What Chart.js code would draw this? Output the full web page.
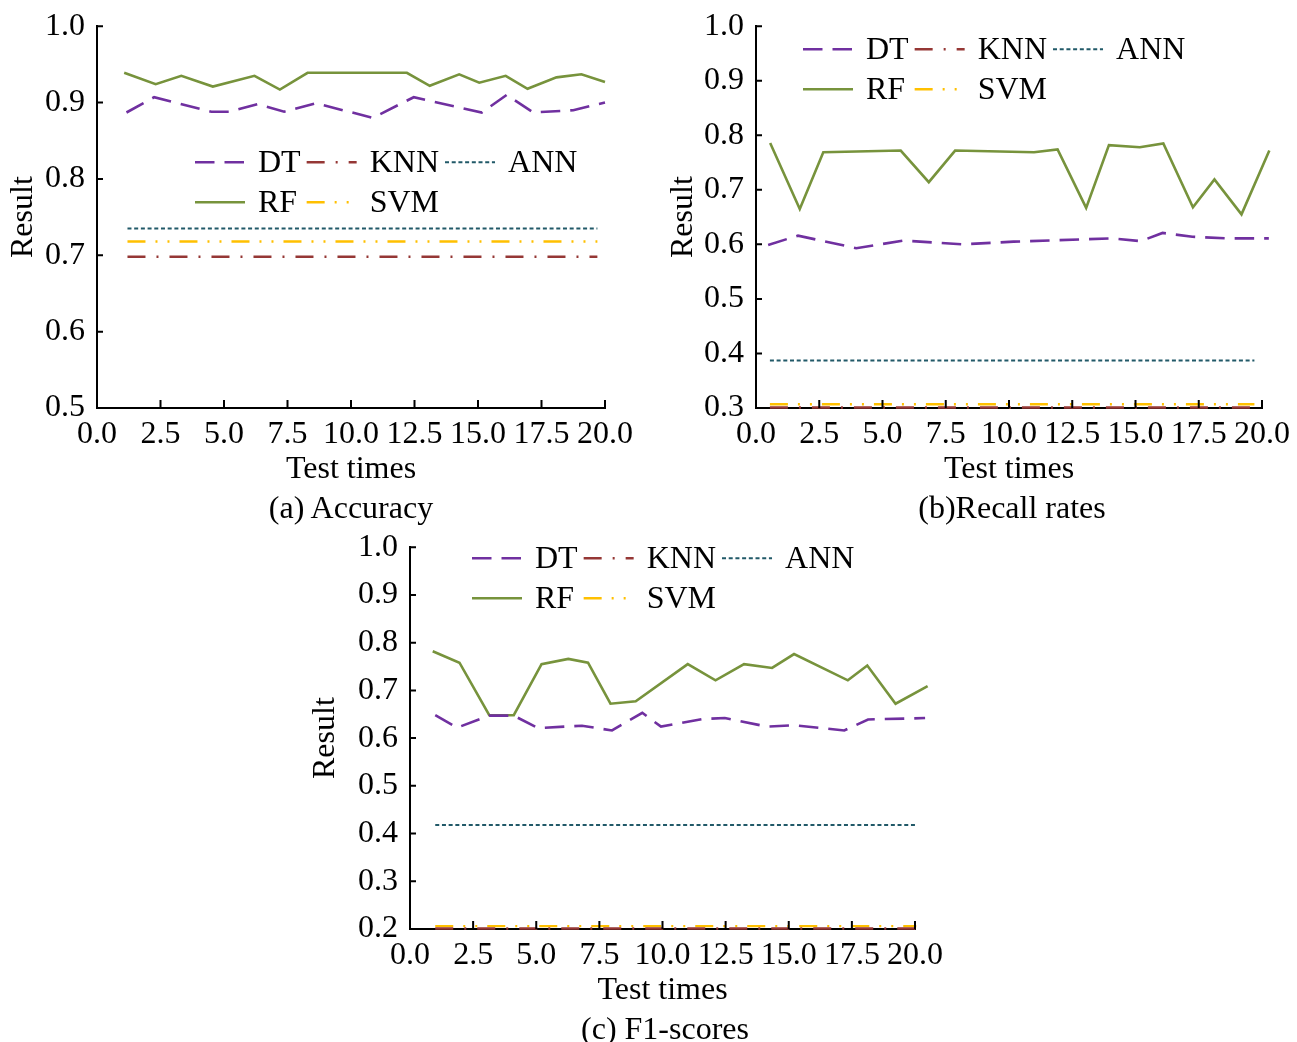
<!DOCTYPE html>
<html>
<head>
<meta charset="utf-8">
<script src="https://cdn.jsdelivr.net/npm/chart.js@4.4.1/dist/chart.umd.min.js"></script>
<style>
    html, body { margin: 0; padding: 0; background: #fff; overflow: hidden; }
    #sheet {
        position: absolute; left: 0; top: 0;
        width: 1297px; height: 1042px;
        font-family: "Liberation Serif", "Times New Roman", serif;
    }
    #sheet canvas { position: absolute; }
    .caption {
        position: absolute; font-size: 32px; color: #000;
        transform: translate(-50%, -50%); white-space: nowrap;
    }
</style>
</head>
<body>
<div id="sheet">
    <canvas id="accChart" width="640" height="495" style="left:0px;top:-5px"></canvas>
    <canvas id="recChart" width="637" height="495" style="left:660px;top:-5px"></canvas>
    <canvas id="f1Chart" width="650" height="495" style="left:300px;top:516px"></canvas>
    <div class="caption" style="left:351px;top:507px">(a) Accuracy</div>
    <div class="caption" style="left:1012px;top:507px">(b)Recall rates</div>
    <div class="caption" style="left:665px;top:1028px">(c) F1-scores</div>
</div>

<script>
// (a) Accuracy
const accRfX = [1.07, 2.31, 3.32, 4.56, 6.2, 7.2, 8.29, 12.2, 13.1, 14.26, 15.05, 16.09, 16.95, 18.09, 19.07, 20.0];
const accRf  = [0.939, 0.924, 0.935, 0.921, 0.935, 0.917, 0.939, 0.939, 0.922, 0.937, 0.926, 0.935, 0.918, 0.933, 0.937, 0.927];
const accDtX = [1.16, 2.25, 4.5, 5.2, 6.32, 7.37, 8.62, 10.86, 12.47, 15.15, 16.13, 17.18, 18.75, 20.0];
const accDt  = [0.887, 0.907, 0.888, 0.888, 0.898, 0.888, 0.899, 0.880, 0.907, 0.887, 0.910, 0.887, 0.890, 0.900];
const accSpan = [1.2, 19.7];
const accKnn = 0.698, accAnn = 0.735, accSvm = 0.718;

// (b) Recall rates
const recRfX = [0.56, 1.73, 2.66, 5.72, 6.83, 7.87, 10.99, 11.92, 13.05, 13.95, 15.17, 16.1, 17.27, 18.12, 19.19, 20.29];
const recRf  = [0.786, 0.665, 0.769, 0.772, 0.714, 0.772, 0.769, 0.774, 0.667, 0.782, 0.778, 0.785, 0.668, 0.719, 0.655, 0.772];
const recDtX = [0.48, 1.66, 3.96, 5.85, 8.15, 10.18, 14.03, 15.21, 16.07, 17.25, 18.62, 20.27];
const recDt  = [0.599, 0.616, 0.593, 0.607, 0.600, 0.605, 0.611, 0.606, 0.621, 0.614, 0.611, 0.611];
const recSpan = [0.55, 19.7];
const recKnn = 0.301, recAnn = 0.387, recSvm = 0.307;

// (c) F1-scores
const f1RfX = [0.9, 1.96, 3.14, 4.11, 5.21, 6.27, 7.05, 7.94, 8.94, 11.0, 12.1, 13.23, 14.34, 15.21, 17.34, 18.11, 19.23, 20.5];
const f1Rf  = [0.782, 0.758, 0.648, 0.648, 0.755, 0.766, 0.758, 0.672, 0.677, 0.755, 0.721, 0.755, 0.747, 0.776, 0.721, 0.752, 0.672, 0.709];
const f1DtX = [1.0, 1.87, 3.14, 4.11, 5.07, 6.81, 8.0, 9.2, 9.94, 11.61, 12.47, 14.14, 15.21, 17.2, 18.14, 20.4];
const f1Dt  = [0.648, 0.622, 0.647, 0.647, 0.621, 0.626, 0.616, 0.653, 0.624, 0.640, 0.642, 0.624, 0.627, 0.616, 0.639, 0.642];
const f1Span = [1.0, 20.05];
const f1Knn = 0.201, f1Ann = 0.418, f1Svm = 0.206;

// legend is laid out in columns, like the original
const legendColumns = [['DT', 'RF'], ['KNN', 'SVM'], ['ANN']];

const lineStyles = {
    DT:  { borderColor: '#7030a0', borderWidth: 2.6, borderDash: [19.5, 10] },
    KNN: { borderColor: '#953735', borderWidth: 2.4, borderDash: [18, 11, 2, 11] },
    ANN: { borderColor: '#215968', borderWidth: 2,   borderDash: [4, 2.7] },
    RF:  { borderColor: '#77933c', borderWidth: 2.6, borderDash: [] },
    SVM: { borderColor: '#ffc000', borderWidth: 2.4, borderDash: [18, 10, 2, 10, 2, 10] }
};

Chart.defaults.font.family = '"Liberation Serif", "Times New Roman", serif';
Chart.defaults.font.size = 32;
Chart.defaults.color = '#000';

function points(xs, ys) {
    return xs.map((x, i) => ({ x: x, y: ys[i] }));
}

function flatLine(span, value) {
    return span.map(x => ({ x: x, y: value }));
}

function series(name, data) {
    return Object.assign({ label: name, data: data, pointRadius: 0, tension: 0, fill: false, clip: false }, lineStyles[name]);
}

// tick marks point into the plot
const innerTicks = {
    id: 'innerTicks',
    afterDraw(chart) {
        const { ctx, scales: { x, y } } = chart;
        ctx.save();
        ctx.strokeStyle = '#000';
        ctx.lineWidth = 2;
        ctx.beginPath();
        x.ticks.forEach(t => {
            const px = x.getPixelForValue(t.value);
            ctx.moveTo(px, y.bottom);
            ctx.lineTo(px, y.bottom - 8);
        });
        y.ticks.forEach(t => {
            const py = y.getPixelForValue(t.value);
            ctx.moveTo(x.left, py);
            ctx.lineTo(x.left + 6, py);
        });
        ctx.stroke();
        ctx.restore();
    }
};

const innerLegend = {
    id: 'innerLegend',
    afterDatasetsDraw(chart, args, opts) {
        const { ctx, chartArea } = chart;
        ctx.save();
        ctx.font = '32px "Liberation Serif"';
        ctx.textBaseline = 'middle';
        let x = chartArea.left + opts.dx;
        legendColumns.forEach(col => {
            let widest = 0;
            col.forEach((name, row) => {
                const ds = chart.data.datasets.find(d => d.label === name);
                const y = chartArea.top + opts.dy + row * 40;
                ctx.strokeStyle = ds.borderColor;
                ctx.lineWidth = ds.borderWidth;
                ctx.setLineDash(ds.borderDash);
                ctx.beginPath();
                ctx.moveTo(x, y);
                ctx.lineTo(x + 50, y);
                ctx.stroke();
                ctx.setLineDash([]);
                ctx.fillStyle = '#000';
                ctx.fillText(name, x + 63, y + 1);
                widest = Math.max(widest, ctx.measureText(name).width);
            });
            x += 63 + widest + 6;
        });
        ctx.restore();
    }
};

function buildChart(id, cfg) {
    const ctx = document.getElementById(id);
    if (!ctx) return;

    new Chart(ctx, {
        type: 'line',
        data: {
            datasets: [
                series('DT', points(cfg.dtX, cfg.dt)),
                series('KNN', flatLine(cfg.span, cfg.knn)),
                series('ANN', flatLine(cfg.span, cfg.ann)),
                series('RF', points(cfg.rfX, cfg.rf)),
                series('SVM', flatLine(cfg.span, cfg.svm))
            ]
        },
        options: {
            responsive: false,
            animation: false,
            layout: { padding: { top: 31, right: cfg.padRight, left: 0, bottom: 0 } },
            plugins: {
                legend: { display: false },
                tooltip: { enabled: false },
                innerLegend: { dx: cfg.legendDx, dy: cfg.legendDy }
            },
            scales: {
                x: {
                    type: 'linear',
                    min: 0,
                    max: 20,
                    afterFit(scale) { scale.height = 82; },
                    grid: { display: true, drawOnChartArea: false, drawTicks: false },
                    border: { display: true, color: '#000', width: 2 },
                    ticks: { stepSize: 2.5, padding: 7, maxRotation: 0, autoSkip: false, callback: v => v.toFixed(1) },
                    title: { display: true, text: 'Test times', padding: { top: 0, bottom: 1 } }
                },
                y: {
                    type: 'linear',
                    min: cfg.yMin,
                    max: 1.0,
                    afterFit(scale) { scale.width = cfg.yWidth; },
                    grid: { display: true, drawOnChartArea: false, drawTicks: false },
                    border: { display: true, color: '#000', width: 2 },
                    ticks: { stepSize: 0.1, padding: 12, callback: v => v.toFixed(1) },
                    title: { display: true, text: 'Result', padding: { top: cfg.titlePad, bottom: 0 } }
                }
            }
        },
        plugins: [innerTicks, innerLegend]
    });
}

document.addEventListener('DOMContentLoaded', () => {
    buildChart('accChart', {
        dtX: accDtX, dt: accDt, rfX: accRfX, rf: accRf,
        span: accSpan, knn: accKnn, ann: accAnn, svm: accSvm,
        yMin: 0.5, yWidth: 97, padRight: 32, titlePad: 4.8,
        legendDx: 98, legendDy: 136
    });
    buildChart('recChart', {
        dtX: recDtX, dt: recDt, rfX: recRfX, rf: recRf,
        span: recSpan, knn: recKnn, ann: recAnn, svm: recSvm,
        yMin: 0.3, yWidth: 96, padRight: 32, titlePad: 4.8,
        legendDx: 47, legendDy: 23
    });
    buildChart('f1Chart', {
        dtX: f1DtX, dt: f1Dt, rfX: f1RfX, rf: f1Rf,
        span: f1Span, knn: f1Knn, ann: f1Ann, svm: f1Svm,
        yMin: 0.2, yWidth: 110, padRight: 33, titlePad: 6.8,
        legendDx: 62, legendDy: 11
    });
});
</script>
</body>
</html>
